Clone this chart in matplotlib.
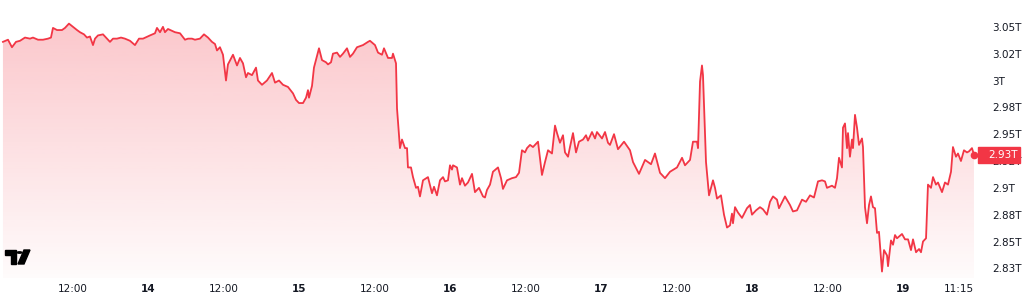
import numpy as np
import matplotlib.pyplot as plt
from matplotlib.colors import LinearSegmentedColormap
from matplotlib.patches import Polygon, Circle, Rectangle

# hours since day 13, 00:00
hours = [
    0.95, 1.75, 2.38, 3.02, 3.66, 4.45, 5.25, 5.72, 6.52, 7.31, 8.11, 8.58, 8.90, 9.54, 10.33, 10.81,
    11.44, 12.08, 12.72, 13.19, 13.83, 14.30, 14.78, 15.26, 15.58, 16.05, 16.85, 17.48, 17.96, 18.44,
    19.07, 19.71, 20.34, 21.14, 21.93, 22.57, 23.21,
    24.32, 25.11, 25.43, 25.91, 26.38, 26.70, 27.18, 28.29, 29.09, 29.88, 30.36, 30.99, 31.47, 32.26,
    32.90, 33.54, 34.17, 34.65, 34.97, 35.44, 35.92, 36.40, 36.71, 37.51, 38.15, 38.62, 39.10, 39.58,
    39.89, 40.53, 41.17, 41.48, 42.12, 42.91, 43.71, 44.19, 44.82, 45.46, 46.25, 47.05, 47.52,
    48.00, 48.64, 49.12, 49.43, 49.59, 50.07, 50.38, 51.18, 51.66, 52.29, 52.61, 53.09, 53.40, 54.04,
    54.52, 54.99, 55.63, 56.11, 56.58, 57.22, 58.17, 58.97, 59.28, 60.08, 60.56, 61.19, 61.51, 62.15,
    62.78, 62.94, 63.42, 63.58, 64.05, 64.37, 64.85, 65.17, 65.32, 65.80, 66.12, 66.60, 66.91, 67.23,
    67.71, 68.50, 69.14, 69.46, 69.93, 70.41, 70.89, 71.21, 71.68,
    72.00, 72.32, 72.48, 73.11, 73.59, 73.91, 74.38, 74.86, 75.50, 75.97, 76.61, 77.25, 77.56, 77.88,
    78.36, 78.83, 79.63, 80.11, 80.42, 81.06, 81.85, 82.49, 82.97, 83.44, 83.92, 84.24, 84.72, 85.19,
    85.99, 86.62, 87.10, 87.58, 88.21, 88.69, 89.01, 89.48, 89.96, 90.28, 90.76, 91.07, 91.55, 92.03,
    92.50, 93.14, 93.62, 93.93, 94.57, 95.05, 95.36,
    96.16, 96.64, 97.11, 97.43, 98.07, 98.70, 99.66, 100.61, 101.09, 102.04, 103.00, 103.95, 104.58,
    105.38, 106.17, 106.97, 108.08, 108.88, 109.35, 110.15, 110.62, 111.26, 111.42, 111.74, 112.05,
    112.21, 112.69, 113.17, 113.80, 114.12, 114.44, 115.07, 115.55, 116.03, 116.50, 116.82, 116.98,
    117.30, 117.77, 118.41, 119.20, 119.68,
    120.00, 120.64, 121.27, 121.75, 122.38, 122.86, 123.34, 123.97, 124.29, 125.24, 126.04, 126.51,
    127.15, 127.95, 128.58, 129.22, 129.85, 130.49, 131.13, 131.60, 131.92, 132.71, 133.19, 133.51,
    133.83, 134.30, 134.46, 134.78, 135.10, 135.26, 135.57, 135.89, 136.05, 136.37, 136.69, 137.01,
    137.48, 137.64, 137.96, 138.28, 138.60, 138.91, 139.23, 139.55, 139.87, 140.18, 140.66, 140.98,
    141.46, 141.62, 142.09, 142.41, 142.73, 143.05, 143.84,
    144.32, 144.80, 145.27, 145.59, 146.07, 146.55, 146.86, 147.18, 147.66, 147.97, 148.45, 148.77,
    149.24, 149.56, 150.20, 150.67, 151.15, 151.63, 151.94, 152.42, 152.74, 153.21, 153.69, 154.17,
    154.49, 154.96, 155.28,
]

# value in trillions
values = [
    3.036, 3.038, 3.031, 3.036, 3.037, 3.040, 3.039, 3.040, 3.038, 3.038, 3.039, 3.040, 3.049, 3.047, 3.047, 3.049,
    3.053, 3.050, 3.047, 3.045, 3.043, 3.040, 3.041, 3.033, 3.039, 3.042, 3.043, 3.039, 3.036, 3.039,
    3.039, 3.040, 3.039, 3.037, 3.033, 3.039, 3.039,
    3.042, 3.044, 3.049, 3.045, 3.050, 3.045, 3.048, 3.045, 3.044, 3.038, 3.039, 3.039, 3.038, 3.039,
    3.043, 3.040, 3.036, 3.034, 3.028, 3.031, 3.024, 3.000, 3.015, 3.024, 3.014, 3.021, 3.016, 3.003,
    3.007, 3.005, 3.012, 3.000, 2.996, 3.000, 3.007, 2.998, 3.000, 2.996, 2.994, 2.988, 2.982,
    2.979, 2.979, 2.984, 2.991, 2.984, 2.995, 3.012, 3.030, 3.019, 3.017, 3.015, 3.017, 3.025, 3.026,
    3.022, 3.025, 3.030, 3.022, 3.025, 3.031, 3.033, 3.036, 3.037, 3.033, 3.026, 3.024, 3.030, 3.021,
    3.021, 3.025, 3.016, 2.974, 2.937, 2.945, 2.937, 2.937, 2.919, 2.919, 2.910, 2.900, 2.901, 2.892,
    2.907, 2.910, 2.895, 2.901, 2.893, 2.907, 2.910, 2.906, 2.907,
    2.921, 2.917, 2.921, 2.919, 2.903, 2.909, 2.902, 2.905, 2.913, 2.896, 2.900, 2.892, 2.891, 2.898,
    2.903, 2.915, 2.919, 2.909, 2.899, 2.907, 2.909, 2.910, 2.914, 2.935, 2.933, 2.937, 2.940, 2.938,
    2.943, 2.912, 2.924, 2.935, 2.932, 2.958, 2.951, 2.942, 2.949, 2.933, 2.929, 2.938, 2.951, 2.933,
    2.943, 2.945, 2.949, 2.944, 2.952, 2.946, 2.952,
    2.946, 2.952, 2.942, 2.940, 2.950, 2.936, 2.943, 2.935, 2.924, 2.913, 2.926, 2.922, 2.932,
    2.914, 2.909, 2.915, 2.919, 2.928, 2.921, 2.926, 2.943, 2.943, 2.937, 2.999, 3.014,
    3.005, 2.924, 2.893, 2.907, 2.900, 2.890, 2.893, 2.875, 2.863, 2.865, 2.876, 2.867,
    2.882, 2.877, 2.872, 2.881, 2.884,
    2.875, 2.879, 2.882, 2.880, 2.875, 2.887, 2.892, 2.889, 2.881, 2.892, 2.884, 2.878,
    2.879, 2.889, 2.887, 2.893, 2.891, 2.906, 2.907, 2.906, 2.900, 2.902, 2.900, 2.909,
    2.928, 2.919, 2.956, 2.960, 2.937, 2.951, 2.929, 2.945, 2.937, 2.968, 2.956, 2.940,
    2.946, 2.938, 2.882, 2.867, 2.884, 2.892, 2.882, 2.881, 2.858, 2.859, 2.822, 2.842,
    2.837, 2.827, 2.851, 2.847, 2.856, 2.853, 2.857,
    2.852, 2.852, 2.842, 2.852, 2.840, 2.843, 2.840, 2.850, 2.853, 2.903, 2.900, 2.910,
    2.903, 2.905, 2.896, 2.905, 2.903, 2.915, 2.938, 2.929, 2.932, 2.925, 2.935, 2.933,
    2.934, 2.937, 2.931,
]

y_ticks = [3.05, 3.025, 3.0, 2.975, 2.95, 2.925, 2.9, 2.875, 2.85, 2.825]
y_labels = ['3.05T', '3.02T', '3T', '2.98T', '2.95T', '2.92T', '2.9T', '2.88T', '2.85T', '2.83T']
x_ticks = [12, 24, 36, 48, 60, 72, 84, 96, 108, 120, 132, 144, 155.25]
x_labels = ['12:00', '14', '12:00', '15', '12:00', '16', '12:00', '17', '12:00', '18', '12:00', '19', '11:15']
last_label = '2.93T'

RED = '#F23645'
TXT = '#131722'
W, H = 1024, 298

fig = plt.figure(figsize=(W / 100, H / 100), dpi=100)
ax = fig.add_axes([0, 20 / H, 978 / W, 278 / H])
x0, x1 = 0.48, 155.92
y0, y1 = 2.816, 3.075
ax.set_xlim(x0, x1)
ax.set_ylim(y0, y1)

# gradient fill under the line
cmap = LinearSegmentedColormap.from_list(
    'fade', [(242 / 255, 54 / 255, 69 / 255, 0.02), (242 / 255, 54 / 255, 69 / 255, 0.30)])
area = ax.fill_between(hours, values, y0, facecolor='none', edgecolor='none')
grad = np.linspace(0, 1, 256).reshape(-1, 1)
im = ax.imshow(grad, extent=[x0, x1, y0, y1], origin='lower', aspect='auto', cmap=cmap, zorder=1)
im.set_clip_path(area.get_paths()[0], transform=ax.transData)

ax.plot(hours, values, color=RED, lw=1.3, solid_joinstyle='round', zorder=3)
ax.plot(hours[-1], values[-1], 'o', color=RED, ms=4.5, zorder=4)

for s in ax.spines.values():
    s.set_visible(False)
ax.yaxis.tick_right()
ax.set_yticks(y_ticks, y_labels)
ax.set_xticks(x_ticks, x_labels)
ax.tick_params(axis='y', length=0, pad=10, labelsize=7.5, labelcolor=TXT)
ax.tick_params(axis='x', length=0, pad=4, labelsize=7.5, labelcolor=TXT)
for lab in ax.get_xticklabels():
    if ':' not in lab.get_text():
        lab.set_fontweight('bold')
ax.get_xticklabels()[-1].set_horizontalalignment('right')

# last price tag
y_px = ax.transData.transform((0, values[-1]))[1]
fig.patches.append(Rectangle((978 / W, (y_px - 8) / H), 42 / W, 16 / H,
                             transform=fig.transFigure, color=RED, zorder=5))
fig.text(988 / W, y_px / H, last_label, color='white', fontsize=7.5,
         ha='left', va='center', zorder=6)

# TradingView logo
def px(x, y):
    return (x / W, 1 - y / H)

logo = dict(transform=fig.transFigure, color='black', zorder=5)
fig.patches.append(Polygon([px(5, 250), px(16, 250), px(16, 264), px(11, 264), px(11, 255), px(5, 255)], **logo))
fig.patches.append(Circle(px(19.5, 252.5), 2.4 / W, **logo))
fig.patches.append(Polygon([px(24, 250), px(30, 250), px(24, 264), px(18, 264)], **logo))

fig.savefig('out.png', dpi=100, facecolor='white')
